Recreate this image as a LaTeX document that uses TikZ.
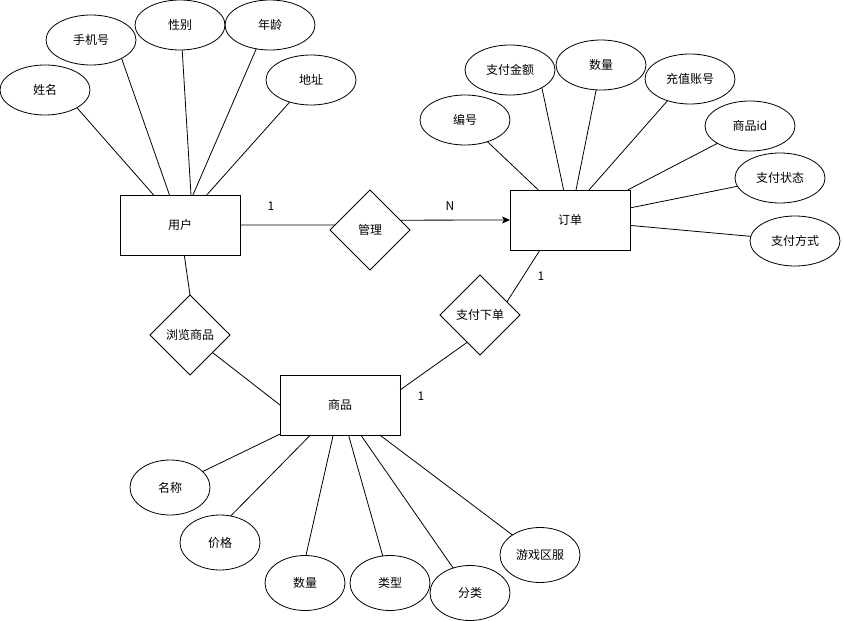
\documentclass[tikz,border=0pt]{standalone}
\usepackage{fontspec}
\setmainfont{Noto Sans CJK SC}
\usepackage{tikz}
\usetikzlibrary{shapes.geometric}
\usetikzlibrary{arrows.meta}

\begin{document}
\begin{tikzpicture}[x=1pt,y=-1pt,line width=0.8pt,
    font=\fontsize{12}{14}\selectfont,
    entity/.style={draw,rectangle,minimum width=120pt,minimum height=60pt,inner sep=0pt,outer sep=0pt},
    rel/.style={draw,diamond,minimum width=80pt,minimum height=80pt,inner sep=0pt,outer sep=0pt},
    attr/.style={draw,ellipse,minimum width=90pt,minimum height=50pt,inner sep=0pt,outer sep=0pt},
    attrb/.style={attr,minimum width=80pt,minimum height=55pt}]
            \useasboundingbox (0,0) rectangle (844,621);
            % entites et relations
            \node[entity] (yonghu) at (180,225) {用户};
            \node[entity] (dingdan) at (570,220) {订单};
            \node[entity] (shangpin) at (340,405) {商品};
            \node[rel] (guanli) at (370,230) {管理};
            \node[rel] (liulan) at (190,335) {浏览商品};
            \node[rel] (zhifu) at (480,315) {支付下单};
            % attributs de l'utilisateur
            \node[attr] (xingming) at (45,90) {姓名};
            \node[attr] (shouji) at (91,40) {手机号};
            \node[attr] (xingbie) at (180,25) {性别};
            \node[attr] (nianling) at (270,25) {年龄};
            \node[attr] (dizhi) at (311,80) {地址};
            \draw (xingming.-29) -- (yonghu);
            \draw (shouji.-31) -- (yonghu);
            \draw (xingbie.-85) -- ([xshift=71pt]yonghu.north west);
            \draw (nianling.-120) -- (yonghu);
            \draw (dizhi.-134) -- (yonghu);
            % attributs de la commande
            \node[attr] (bianhao) at (465,120) {编号};
            \node[attr] (jine) at (510,70) {支付金额};
            \node[attr] (shuliang) at (601,65) {数量};
            \node[attr] (chongzhi) at (690,79) {充值账号};
            \node[attr] (spid) at (750,126) {商品id};
            \node[attr] (zhuangtai) at (780,178) {支付状态};
            \node[attr] (fangshi) at (795,241) {支付方式};
            \draw (bianhao.-44) -- (dingdan);
            \draw (jine.-29) -- (dingdan);
            \draw (shuliang.-101) -- (dingdan);
            \draw (chongzhi.-136) -- ([xshift=79pt]dingdan.north west);
            \draw (spid.-152) -- (dingdan);
            \draw (zhuangtai.-169) -- (dingdan);
            \draw (fangshi.174) -- (dingdan);
            % attributs du produit
            \node[attrb] (mingcheng) at (170,487.5) {名称};
            \node[attrb] (jiage) at (220,542.5) {价格};
            \node[attrb] (spshuliang) at (305,583) {数量};
            \node[attrb] (leixing) at (390,583) {类型};
            \node[attrb] (fenlei) at (470,593) {分类};
            \node[attrb] (qufu) at (540,555) {游戏区服};
            \draw (mingcheng.26) -- (shangpin);
            \draw (jiage.68) -- (shangpin);
            \draw (spshuliang.88) -- (shangpin);
            \draw (leixing.105) -- (shangpin);
            \draw (fenlei.124) -- (shangpin);
            \draw (qufu.144) -- (shangpin);
            % liens
            \draw (yonghu.east) -- (guanli.172);
            \draw[-{Stealth[length=8pt,width=7pt,inset=2pt]}] (guanli.18.43) -- (dingdan.west);
            \draw (yonghu) -- (liulan.north);
            \draw (liulan) -- (shangpin.west);
            \draw ([xshift=30pt]dingdan.south west) -- (zhifu.26);
            \draw ([yshift=-15pt]shangpin.north east) -- (zhifu.-115);
            \node (c1) at (271,206) {1};
            \node (cn) at (450,206) {N};
            \node (c2) at (541,276) {1};
            \node (c3) at (421,396) {1};
        \end{tikzpicture}
\end{document}
